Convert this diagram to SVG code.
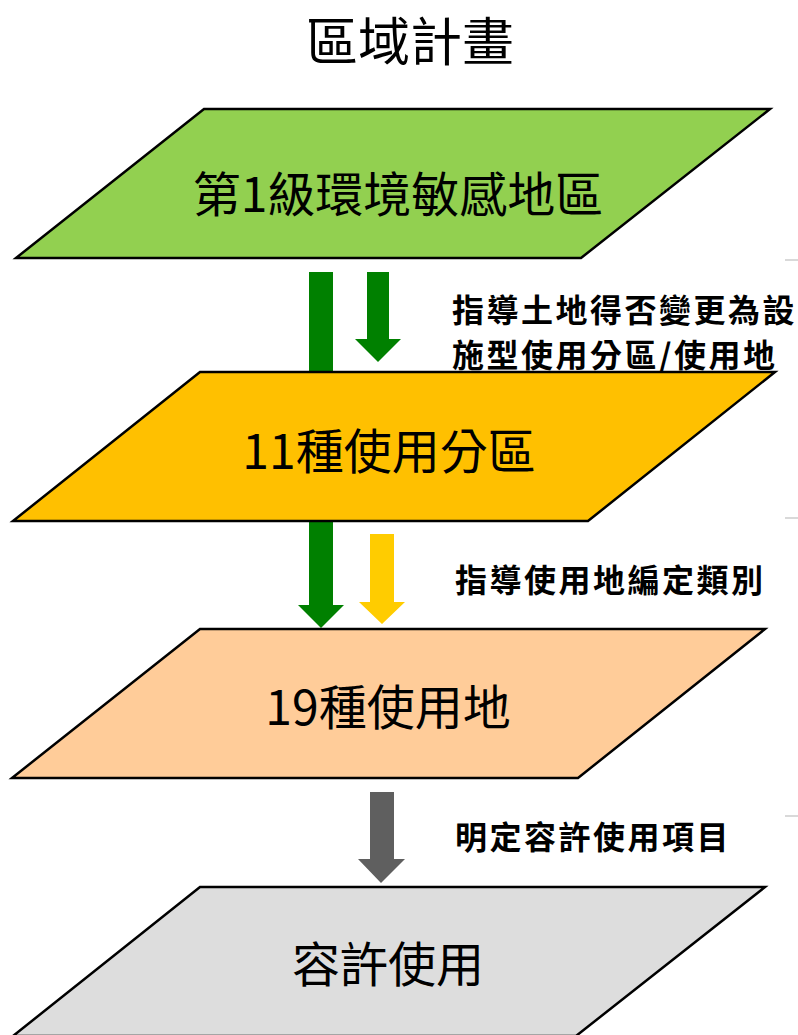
<svg xmlns="http://www.w3.org/2000/svg" width="798" height="1035" viewBox="0 0 798 1035">
<style>
.node{stroke:#000;stroke-width:2.5;stroke-linejoin:miter}
.nt{font-family:"Noto Sans CJK TC","Noto Sans CJK SC",sans-serif;font-size:48px;fill:#000;text-anchor:middle;dominant-baseline:central}
.lb{font-family:"Noto Sans CJK TC","Noto Sans CJK SC",sans-serif;font-size:32px;letter-spacing:2.5px;font-weight:bold;fill:#000;dominant-baseline:central}
.tick{stroke:#d9d9d9;stroke-width:2}
</style>
<rect width="798" height="1035" fill="#fff"/>
<text id="title" x="410" y="38" class="nt" style="font-size:52px">區域計畫</text>
<g id="ticks">
<line class="tick" x1="785" y1="260" x2="798" y2="260"/>
<line class="tick" x1="785" y1="518" x2="798" y2="518"/>
<line class="tick" x1="785" y1="816" x2="798" y2="816"/>
</g>
<g id="connectors">
<rect x="309" y="272" width="24" height="100" fill="#008000"/>
<polygon points="367,272 389,272 389,339 401,339 378,362 355,339 367,339" fill="#008000"/>
<polygon points="309,521 333,521 333,605 344,605 321,628 298,605 309,605" fill="#008000"/>
<polygon points="370,534 394,534 394,602 405,602 382,624 359,602 370,602" fill="#FFCC00"/>
<polygon points="370,792 394,792 394,859 405,859 381,883 358,859 370,859" fill="#5F5F5F"/>
</g>
<g id="label1">
<text class="lb" x="452" y="308">指導土地得否變更為設</text>
<text class="lb" x="452" y="353">施型使用分區/使用地</text>
</g>
<g id="label2"><text class="lb" x="455" y="578">指導使用地編定類別</text></g>
<g id="label3"><text class="lb" x="455" y="835">明定容許使用項目</text></g>
<g id="node1">
<polygon class="node" points="204,109 770,109 581,258 16,258" fill="#92D050"/>
<text class="nt" x="398" y="191">第1級環境敏感地區</text>
</g>
<g id="node2">
<polygon class="node" points="200,372 775,372 588,521 13,521" fill="#FFC000"/>
<text class="nt" x="389" y="448">11種使用分區</text>
</g>
<g id="node3">
<polygon class="node" points="200,629 765,629 578,778 12,778" fill="#FFCC99"/>
<text class="nt" x="388" y="704">19種使用地</text>
</g>
<g id="node4">
<polygon class="node" points="200,887 765,887 576,1036 13,1036" fill="#DDDDDD"/>
<text class="nt" x="388" y="961">容許使用</text>
</g>
</svg>
